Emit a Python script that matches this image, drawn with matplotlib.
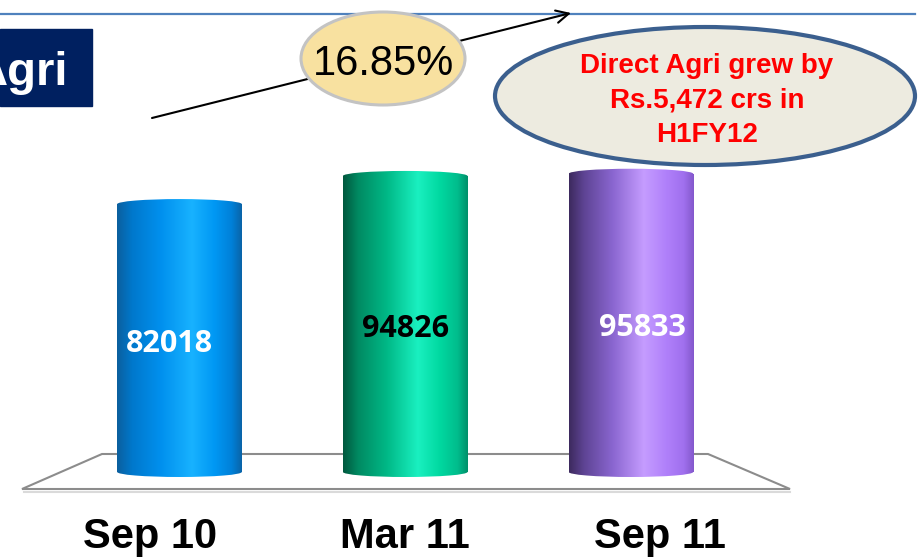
import numpy as np
import matplotlib
matplotlib.use("Agg")
import matplotlib.pyplot as plt
from matplotlib.patches import Ellipse, Polygon, Rectangle
from matplotlib.colors import LinearSegmentedColormap
import matplotlib.transforms as mtransforms

# data
categories = ["Sep 10", "Mar 11", "Sep 11"]
values = [82018, 94826, 95833]
value_colors = ["white", "black", "white"]
growth_label = "16.85%"
note_lines = ["Direct Agri grew by", "Rs.5,472 crs in", "H1FY12"]
title_text = "Agri"

# cylinder shading, left to right
bar_shades = [
    ["#0B5F9E", "#0078CC", "#0090EE", "#18B2FF", "#0098F4", "#0080D8", "#0A64A8"],
    ["#00583E", "#008A62", "#00B886", "#1AF0C0", "#00D8A0", "#00BC8C", "#00906A"],
    ["#3D2A5E", "#5E4494", "#8A66D0", "#C59CFF", "#B080FA", "#A070EE", "#8458CC"],
]
shade_pos = [0, 0.12, 0.35, 0.6, 0.78, 0.92, 1]

W, H = 921, 558
FLOOR = -40000      # the 3d floor sits below zero in the source chart
CAP = 2300          # half height of the elliptic caps, data units

fig = plt.figure(figsize=(W / 100, H / 100), dpi=100)
ax = fig.add_axes([0, 0, 1, 1])
ax.axis("off")

px_per_cat = 225.7
x0_px = 179.5
ax.set_xlim(-x0_px / px_per_cat, (W - x0_px) / px_per_cat)
ax.set_ylim(-79200, 175000)

# pixel coords (origin top-left) for the slide decorations
pix = mtransforms.Affine2D().scale(1 / W, -1 / H).translate(0, 1) + ax.transAxes

# header line and title box
ax.plot([0, 915], [14, 14], transform=pix, color="#4F81BD", lw=1.6, zorder=2)
ax.add_patch(Rectangle((0, 29), 92, 77, transform=pix, color="#002060", zorder=2))
ax.text(68, 85, title_text, transform=pix, ha="right", va="baseline",
        fontsize=34, fontweight="bold", color="white", family="Liberation Sans", zorder=3)

# floor of the 3d chart
ax.add_patch(Polygon([(22, 489), (102, 454), (708, 454), (790, 489)], closed=True,
                     fill=False, ec="#8C8C8C", lw=1.5, transform=pix, zorder=1))
ax.plot([24, 790], [492, 492], transform=pix, color="#DADADA", lw=1.5, zorder=1)

# cylinders
x = np.arange(len(values))
heights = [v - FLOOR for v in values]
bars = ax.bar(x, heights, bottom=FLOOR, width=0.552, color="none", zorder=3)

for i, b in enumerate(bars):
    bx, by = b.get_x(), b.get_y()
    bw, bh = b.get_width(), b.get_height()
    cmap = LinearSegmentedColormap.from_list("cyl%d" % i, list(zip(shade_pos, bar_shades[i])))
    grad = np.linspace(0, 1, 256).reshape(1, -1)
    clips = [
        Rectangle((bx, by), bw, bh, transform=ax.transData),
        Ellipse((bx + bw / 2, by + bh), bw, 2 * CAP, transform=ax.transData),
        Ellipse((bx + bw / 2, by), bw, 2 * CAP, transform=ax.transData),
    ]
    for c in clips:
        im = ax.imshow(grad, cmap=cmap, aspect="auto", interpolation="bilinear",
                       extent=[bx, bx + bw, by - CAP, by + bh + CAP], zorder=3)
        im.set_clip_path(c)

ax.set_xlim(-x0_px / px_per_cat, (W - x0_px) / px_per_cat)
ax.set_ylim(-79200, 175000)

# value labels inside the cylinders
label_shift = [-0.045, 0.0, 0.05]
for i, v in enumerate(values):
    mid = FLOOR + heights[i] / 2
    tr = mtransforms.offset_copy(ax.transData, fig=fig, x=0, y=-13.5, units="dots")
    ax.text(x[i] + label_shift[i], mid, str(v), transform=tr, ha="center", va="baseline",
            fontsize=22, fontweight="bold", color=value_colors[i], family="Open Sans", zorder=6)

# category labels (spread out a little, like the perspective of the source)
lab_tr = mtransforms.blended_transform_factory(ax.transData, pix)
for i, c in enumerate(categories):
    ax.text(1 + (x[i] - 1) * 1.13, 548, c, transform=lab_tr, ha="center", va="baseline",
            fontsize=30, fontweight="bold", family="Liberation Sans", color="black", zorder=6)

# growth arrow and bubble
ax.annotate("", xy=(571, 13), xytext=(152, 118), xycoords=pix, textcoords=pix,
            arrowprops=dict(arrowstyle="->,head_length=0.9,head_width=0.45", lw=1.5,
                            color="black", shrinkA=0, shrinkB=0), zorder=4)
ax.add_patch(Ellipse((383, 58.5), 164, 93, transform=pix, fc="#F8E1A0", ec="#C3C3C3",
                     lw=2.2, zorder=5))
ax.text(383, 75, growth_label, transform=pix, ha="center", va="baseline", fontsize=30,
        family="Liberation Sans", color="black", zorder=6)

# note bubble
ax.add_patch(Ellipse((705, 96), 420, 138, transform=pix, fc="#EDEBE0", ec="#3B5F8E",
                     lw=3, zorder=5))
for line, yb in zip(note_lines, [73, 108, 142]):
    ax.text(707, yb, line, transform=pix, ha="center", va="baseline", fontsize=20,
            fontweight="bold", family="Liberation Sans", color="#FF0000", zorder=6)

fig.savefig("out.png", dpi=100)
